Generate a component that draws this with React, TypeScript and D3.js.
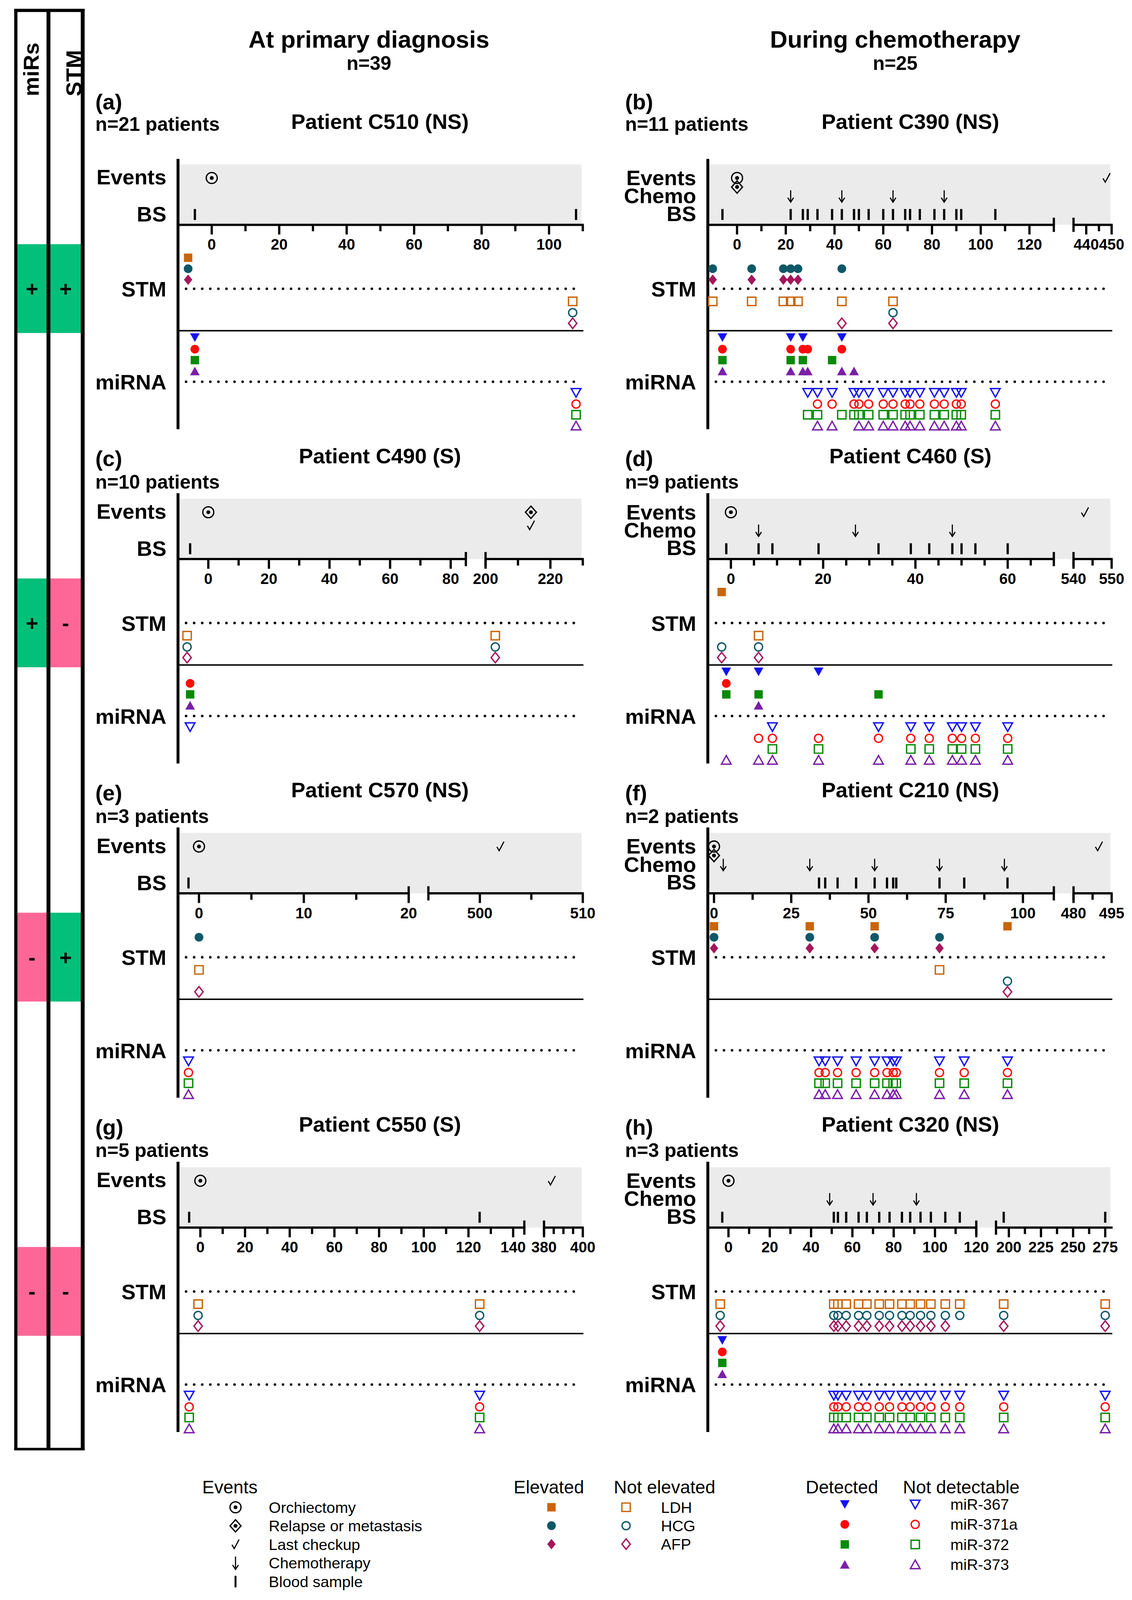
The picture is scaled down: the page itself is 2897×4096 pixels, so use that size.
import React from 'react';
import * as d3 from 'd3';

// reference canvas is 3504 x 4954, the viewBox scales it down to the window
const W = 3504;
const H = 4954;
const FONT = '"Liberation Sans", Arial, Helvetica, sans-serif';

const panelLetters = ['(a)', '(b)', '(c)', '(d)', '(e)', '(f)', '(g)', '(h)'];
const panelTitles = [
  'Patient C510 (NS)', 'Patient C390 (NS)', 'Patient C490 (S)', 'Patient C460 (S)',
  'Patient C570 (NS)', 'Patient C210 (NS)', 'Patient C550 (S)', 'Patient C320 (NS)',
];
const panelCounts = [
  'n=21 patients', 'n=11 patients', 'n=10 patients', 'n=9 patients',
  'n=3 patients', 'n=2 patients', 'n=5 patients', 'n=3 patients',
];
const columnTitles = ['At primary diagnosis', 'During chemotherapy'];
const columnCounts = ['n=39', 'n=25'];

// left strip: miRs / STM status per row
const mirsStatus = ['+', '+', '-', '-'];
const stmStatus = ['+', '-', '+', '-'];

// x axis (days), split into segments where the axis is broken
const axisDomains: [number, number][][] = [
  [[-10, 110]],
  [[-12, 130], [435, 450]],
  [[-10, 85], [200, 230]],
  [[-5, 70], [540, 550]],
  [[-2, 20], [495, 510]],
  [[-2, 110], [480, 495]],
  [[-10, 145], [380, 400]],
  [[-10, 120], [190, 280]],
];
const majorTicks = [
  [0, 20, 40, 60, 80, 100],
  [0, 20, 40, 60, 80, 100, 120, 440, 450],
  [0, 20, 40, 60, 80, 200, 220],
  [0, 20, 40, 60, 540, 550],
  [0, 10, 20, 500, 510],
  [0, 25, 50, 75, 100, 480, 495],
  [0, 20, 40, 60, 80, 100, 120, 140, 380, 400],
  [0, 20, 40, 60, 80, 100, 120, 200, 225, 250, 275],
];
const minorTicks = [
  [10, 30, 50, 70, 90, 110],
  [10, 30, 50, 70, 90, 110, 445],
  [10, 30, 50, 70, 210, 230],
  [5, 10, 15, 25, 30, 35, 45, 50, 55, 65, 545],
  [5, 15, 505],
  [12.5, 37.5, 62.5, 87.5, 487.5],
  [10, 30, 50, 70, 90, 110, 130, 385, 390, 395],
  [10, 30, 50, 70, 90, 110, 212.5, 237.5, 262.5],
];

// events (days)
const orchiectomyDays = [[0], [0], [0], [0], [0], [0], [0], [0]];
const relapseDays = [[], [0], [214], [], [], [0], [], []];
const checkupDays = [[], [448], [214], [543], [502], [490], [384], []];
const chemoDays = [[], [22, 43, 64, 85], [], [6, 27, 48], [], [3, 31, 52, 73, 94], [], [49, 70, 91]];
const bloodSampleDays = [
  [-5, 108],
  [-6, 22, 27, 29, 33, 39, 43, 48, 50, 54, 60, 64, 69, 71, 75, 81, 85, 90, 92, 106],
  [-6],
  [-1, 6, 9, 19, 32, 39, 43, 48, 50, 53, 60],
  [-1],
  [34, 36, 40, 46, 52, 56, 58, 59, 73, 81, 95],
  [-5, 125],
  [-3, 51, 53, 57, 63, 67, 73, 78, 84, 88, 93, 98, 105, 112, 196, 275],
];

// serum tumour markers
const ldhElevated = [[-7], [], [], [-2], [], [0, 31, 52, 95], [], []];
const ldhNormal = [
  [107], [-10, 6, 19, 22, 25, 43, 64], [-7, 203], [6], [0], [73], [-1, 125],
  [-4, 51, 53, 57, 63, 67, 73, 78, 84, 88, 93, 98, 105, 112, 196, 275],
];
const hcgElevated = [[-7], [-10, 6, 19, 22, 25, 43], [], [], [0], [0, 31, 52, 73], [], []];
const hcgNormal = [
  [107], [64], [-7, 203], [-2, 6], [], [95], [-1, 125],
  [-4, 51, 53, 57, 63, 67, 73, 78, 84, 88, 93, 98, 105, 112, 196, 275],
];
const afpElevated = [[-7], [-10, 6, 19, 22, 25], [], [], [], [0, 31, 52, 73], [], []];
const afpNormal = [
  [107], [43, 64], [-7, 203], [-2, 6], [0], [95], [-1, 125],
  [-4, 51, 53, 57, 63, 67, 73, 78, 84, 88, 93, 98, 105, 196, 275],
];

// miRNAs
const mir367Detected = [[-5], [-6, 22, 27, 43], [], [-1, 6, 19], [], [], [], [-3]];
const mir367Undetected = [
  [108], [29, 33, 39, 48, 50, 54, 60, 64, 69, 71, 75, 81, 85, 90, 92, 106], [-6],
  [9, 32, 39, 43, 48, 50, 53, 60], [-1], [34, 36, 40, 46, 52, 56, 58, 59, 73, 81, 95], [-5, 125],
  [51, 53, 57, 63, 67, 73, 78, 84, 88, 93, 98, 105, 112, 196, 275],
];
const mir371Detected = [[-5], [-6, 22, 27, 29, 43], [-6], [-1], [], [], [], [-3]];
const mir371Undetected = [
  [108], [33, 39, 48, 50, 54, 60, 64, 69, 71, 75, 81, 85, 90, 92, 106], [],
  [6, 9, 19, 32, 39, 43, 48, 50, 53, 60], [-1], [34, 36, 40, 46, 52, 56, 58, 59, 73, 81, 95], [-5, 125],
  [51, 53, 57, 63, 67, 73, 78, 84, 88, 93, 98, 105, 112, 196, 275],
];
const mir372Detected = [[-5], [-6, 22, 27, 39], [-6], [-1, 6, 32], [], [], [], [-3]];
const mir372Undetected = [
  [108], [29, 33, 43, 48, 50, 54, 60, 64, 69, 71, 75, 81, 85, 90, 92, 106], [],
  [9, 19, 39, 43, 48, 50, 53, 60], [-1], [34, 36, 40, 46, 52, 56, 58, 59, 73, 81, 95], [-5, 125],
  [51, 53, 57, 63, 67, 73, 78, 84, 88, 93, 98, 105, 112, 196, 275],
];
const mir373Detected = [[-5], [-6, 22, 27, 29, 43, 48], [-6], [6], [], [], [], [-3]];
const mir373Undetected = [
  [108], [33, 39, 50, 54, 60, 64, 69, 71, 75, 81, 85, 90, 92, 106], [],
  [-1, 6, 9, 19, 32, 39, 43, 48, 50, 53, 60], [-1], [34, 36, 40, 46, 52, 56, 58, 59, 73, 81, 95], [-5, 125],
  [51, 53, 57, 63, 67, 73, 78, 84, 88, 93, 98, 105, 112, 196, 275],
];

const legendEvents = ['Orchiectomy', 'Relapse or metastasis', 'Last checkup', 'Chemotherapy', 'Blood sample'];
const legendStm = ['LDH', 'HCG', 'AFP'];
const legendMir = ['miR-367', 'miR-371a', 'miR-372', 'miR-373'];

type Shape = 'square' | 'circle' | 'diamond' | 'triUp' | 'triDown';

const stmSeries = [
  { name: 'LDH', color: '#C8650A', shape: 'square' as Shape, up: ldhElevated, down: ldhNormal },
  { name: 'HCG', color: '#0F5868', shape: 'circle' as Shape, up: hcgElevated, down: hcgNormal },
  { name: 'AFP', color: '#A3175B', shape: 'diamond' as Shape, up: afpElevated, down: afpNormal },
];
const mirSeries = [
  { name: 'miR-367', color: '#1212F2', shape: 'triDown' as Shape, up: mir367Detected, down: mir367Undetected },
  { name: 'miR-371a', color: '#FF0A0A', shape: 'circle' as Shape, up: mir371Detected, down: mir371Undetected },
  { name: 'miR-372', color: '#078A07', shape: 'square' as Shape, up: mir372Detected, down: mir372Undetected },
  { name: 'miR-373', color: '#7A1FA8', shape: 'triUp' as Shape, up: mir373Detected, down: mir373Undetected },
];

// layout
const colLeft = [551, 2191];
const colWidth = [1253, 1250];
const firstAxisY = 696;
const rowStep = 1035;
const breakAt = [0, 1071, 891, 1071, 714, 1071, 1072, 831];
const breakGap = 61;
const GREEN = '#04BF7A';
const PINK = '#FD6797';

function makeX(domains: [number, number][], x0: number, w: number, brk: number) {
  const ranges: [number, number][] =
    domains.length === 1 ? [[x0, x0 + w]] : [[x0, x0 + brk], [x0 + brk + breakGap, x0 + w]];
  const scales = domains.map((d, i) => d3.scaleLinear().domain(d).range(ranges[i]));
  const f = (v: number) => {
    let i = domains.findIndex((d) => v >= d[0] && v <= d[1]);
    if (i < 0) i = v < domains[0][0] ? 0 : domains.length - 1;
    return scales[i](v);
  };
  return { f, ranges };
}

function Marker({ shape, x, y, color, filled }: { shape: Shape; x: number; y: number; color: string; filled: boolean }) {
  const s = 13;
  const style = filled
    ? { fill: color, stroke: 'none' }
    : { fill: 'none', stroke: color, strokeWidth: 4.2 };
  if (shape === 'circle') return <circle cx={x} cy={y} r={filled ? 13.5 : 12.5} {...style} />;
  let d = '';
  if (shape === 'square') d = `M${x - s},${y - s}h${2 * s}v${2 * s}h${-2 * s}Z`;
  if (shape === 'diamond') d = `M${x},${y - 1.25 * s}L${x + s},${y}L${x},${y + 1.25 * s}L${x - s},${y}Z`;
  if (shape === 'triUp') d = `M${x},${y - 1.05 * s}L${x + 1.15 * s},${y + s}L${x - 1.15 * s},${y + s}Z`;
  if (shape === 'triDown') d = `M${x},${y + 1.05 * s}L${x + 1.15 * s},${y - s}L${x - 1.15 * s},${y - s}Z`;
  return <path d={d} {...style} />;
}

function Orchiectomy({ x, y }: { x: number; y: number }) {
  return (
    <g>
      <circle cx={x} cy={y} r={17} fill="none" stroke="#000" strokeWidth={4} />
      <circle cx={x} cy={y} r={6} fill="#000" />
    </g>
  );
}

function Relapse({ x, y }: { x: number; y: number }) {
  return (
    <g>
      <path d={`M${x},${y - 19}L${x + 17},${y}L${x},${y + 19}L${x - 17},${y}Z`} fill="none" stroke="#000" strokeWidth={4} />
      <circle cx={x} cy={y} r={6} fill="#000" />
    </g>
  );
}

function Checkup({ x, y }: { x: number; y: number }) {
  return (
    <path d={`M${x - 11},${y + 1}L${x - 4},${y + 13}L${x + 11},${y - 15}`} fill="none" stroke="#000" strokeWidth={3.5} />
  );
}

function ChemoArrow({ x, y1, y2 }: { x: number; y1: number; y2: number }) {
  return (
    <g fill="none" stroke="#000" strokeWidth={3.5}>
      <line x1={x} x2={x} y1={y1} y2={y2} />
      <path d={`M${x - 9},${y2 - 14}L${x},${y2}L${x + 9},${y2 - 14}`} />
    </g>
  );
}

function Panel({ p }: { p: number }) {
  const col = p % 2;
  const row = Math.floor(p / 2);
  const x0 = colLeft[col];
  const w = colWidth[col];
  const ay = firstAxisY + row * rowStep;
  const { f: x, ranges } = makeX(axisDomains[p], x0, w, breakAt[p]);
  const chemo = chemoDays[p].length > 0;
  const stmY = ay + 198;
  const sepY = ay + 328;
  const mirY = ay + 486;
  const labelX = x0 - 36;
  const labelStyle = { fontFamily: FONT, fontWeight: 700, fontSize: 66, textAnchor: 'end' as const };

  const evts: { type: string; d: number }[] = [
    ...orchiectomyDays[p].map((d) => ({ type: 'orch', d })),
    ...relapseDays[p].map((d) => ({ type: 'relapse', d })),
    ...checkupDays[p].map((d) => ({ type: 'check', d })),
  ];
  const placed: { type: string; px: number; k: number }[] = [];
  evts.forEach((e) => {
    const px = x(e.d);
    const k = placed.filter((q) => Math.abs(q.px - px) < 20).length;
    placed.push({ type: e.type, px, k });
  });
  const evBase = ay - 145;
  const evGap = chemo ? 28 : 41;

  const titleX = col === 0 ? 1176 : 2818;
  const letterX = x0 - 256;
  const first = row === 0;

  const stmUp = [-96, -62, -28];
  const stmDown = [39, 74, 107];
  const mirUp = [-137, -101, -67, -33];
  const mirDown = [34, 69, 102, 136];

  return (
    <g>
      {/* headings */}
      <text x={letterX} y={first ? ay - 357 : ay - 288} fontFamily={FONT} fontWeight={700} fontSize={68}>
        {panelLetters[p]}
      </text>
      <text x={titleX} y={ay - 297} fontFamily={FONT} fontWeight={700} fontSize={66} textAnchor="middle">
        {panelTitles[p]}
      </text>
      <text x={letterX} y={first ? ay - 291 : ay - 218} fontFamily={FONT} fontWeight={700} fontSize={60}>
        {panelCounts[p]}
      </text>

      {/* events band */}
      <rect x={x0 + 4} y={ay - 187} width={w - 8} height={187} fill="#EBEBEB" />

      {chemo ? (
        <>
          <text x={labelX} y={ay - 123} {...labelStyle}>Events</text>
          <text x={labelX} y={ay - 67} {...labelStyle}>Chemo</text>
          <text x={labelX} y={ay - 12} {...labelStyle}>BS</text>
        </>
      ) : (
        <>
          <text x={labelX} y={ay - 125} {...labelStyle}>Events</text>
          <text x={labelX} y={ay - 10} {...labelStyle}>BS</text>
        </>
      )}
      <text x={labelX} y={stmY + 24} {...labelStyle}>STM</text>
      <text x={labelX} y={mirY + 24} {...labelStyle}>miRNA</text>

      {placed.map((e, i) => {
        const y = evBase + e.k * evGap;
        if (e.type === 'orch') return <Orchiectomy key={i} x={e.px} y={y} />;
        if (e.type === 'relapse') return <Relapse key={i} x={e.px} y={y} />;
        return <Checkup key={i} x={e.px} y={y} />;
      })}
      {chemoDays[p].map((d, i) => (
        <ChemoArrow key={`c${i}`} x={x(d)} y1={ay - 107} y2={ay - 70} />
      ))}
      {bloodSampleDays[p].map((d, i) => (
        <line key={`b${i}`} x1={x(d)} x2={x(d)} y1={ay - 49} y2={ay - 15} stroke="#000" strokeWidth={7} />
      ))}

      {/* axes */}
      <line x1={x0} x2={x0} y1={ay - 204} y2={ay + 633} stroke="#000" strokeWidth={9} />
      {ranges.map((r, i) => (
        <line key={`s${i}`} x1={i === 0 ? x0 : r[0]} x2={r[1] + 3} y1={ay} y2={ay} stroke="#000" strokeWidth={7} />
      ))}
      {ranges.length > 1 && (
        <>
          <line x1={ranges[0][1]} x2={ranges[0][1]} y1={ay - 22} y2={ay + 22} stroke="#000" strokeWidth={7} />
          <line x1={ranges[1][0]} x2={ranges[1][0]} y1={ay - 22} y2={ay + 22} stroke="#000" strokeWidth={7} />
        </>
      )}
      {majorTicks[p].map((t) => (
        <g key={`M${t}`}>
          <line x1={x(t)} x2={x(t)} y1={ay} y2={ay + 30} stroke="#000" strokeWidth={7} />
          <text x={x(t)} y={ay + 77} fontFamily={FONT} fontWeight={700} fontSize={47} textAnchor="middle">
            {t}
          </text>
        </g>
      ))}
      {minorTicks[p].map((t) => (
        <line key={`m${t}`} x1={x(t)} x2={x(t)} y1={ay} y2={ay + 20} stroke="#000" strokeWidth={7} />
      ))}

      {/* STM / miRNA bands */}
      <line x1={x0 + 25} x2={x0 + w - 22} y1={stmY} y2={stmY} stroke="#000" strokeWidth={8}
        strokeDasharray="0 25" strokeLinecap="round" />
      <line x1={x0} x2={x0 + w + 2} y1={sepY} y2={sepY} stroke="#000" strokeWidth={4.5} />
      <line x1={x0 + 25} x2={x0 + w - 22} y1={mirY} y2={mirY} stroke="#000" strokeWidth={8}
        strokeDasharray="0 25" strokeLinecap="round" />

      {stmSeries.map((s, i) => (
        <g key={s.name}>
          {s.up[p].map((d, j) => (
            <Marker key={`u${j}`} shape={s.shape} x={x(d)} y={stmY + stmUp[i]} color={s.color} filled />
          ))}
          {s.down[p].map((d, j) => (
            <Marker key={`d${j}`} shape={s.shape} x={x(d)} y={stmY + stmDown[i]} color={s.color} filled={false} />
          ))}
        </g>
      ))}
      {mirSeries.map((s, i) => (
        <g key={s.name}>
          {s.up[p].map((d, j) => (
            <Marker key={`u${j}`} shape={s.shape} x={x(d)} y={mirY + mirUp[i]} color={s.color} filled />
          ))}
          {s.down[p].map((d, j) => (
            <Marker key={`d${j}`} shape={s.shape} x={x(d)} y={mirY + mirDown[i]} color={s.color} filled={false} />
          ))}
        </g>
      ))}
    </g>
  );
}

function Strip() {
  const boxH = 275;
  return (
    <g>
      {mirsStatus.map((s, i) => {
        const cy = firstAxisY + 198 + i * rowStep;
        const s2 = stmStatus[i];
        return (
          <g key={i}>
            <rect x={54} y={cy - 138} width={90} height={boxH} fill={s === '+' ? GREEN : PINK} />
            <rect x={156} y={cy - 138} width={95} height={boxH} fill={s2 === '+' ? GREEN : PINK} />
            <text x={99} y={cy} dy="0.35em" fontFamily={FONT} fontWeight={700} fontSize={66} textAnchor="middle">{s}</text>
            <text x={203} y={cy} dy="0.35em" fontFamily={FONT} fontWeight={700} fontSize={66} textAnchor="middle">{s2}</text>
          </g>
        );
      })}
      <g stroke="#000">
        <line x1={49} x2={49} y1={28} y2={4490} strokeWidth={10} />
        <line x1={150} x2={150} y1={28} y2={4490} strokeWidth={12} />
        <line x1={256} x2={256} y1={28} y2={4490} strokeWidth={12} />
        <line x1={44} x2={262} y1={32} y2={32} strokeWidth={10} />
        <line x1={44} x2={262} y1={4487} y2={4487} strokeWidth={8} />
      </g>
      <text transform="translate(120,298) rotate(-90)" fontFamily={FONT} fontWeight={700} fontSize={68}>miRs</text>
      <text transform="translate(251,298) rotate(-90)" fontFamily={FONT} fontWeight={700} fontSize={68}>STM</text>
    </g>
  );
}

function Legend() {
  const head = { fontFamily: FONT, fontSize: 56 };
  const lab = { fontFamily: FONT, fontSize: 48 };
  const evY = (i: number) => 4667 + i * 57.5;
  const stY = (i: number) => 4667 + i * 57;
  const mrY = (i: number) => 4658 + i * 62;
  return (
    <g>
      <text x={626} y={4624} {...head}>Events</text>
      <Orchiectomy x={729} y={evY(0)} />
      <Relapse x={729} y={evY(1)} />
      <Checkup x={729} y={evY(2)} />
      <ChemoArrow x={729} y1={evY(3) - 20} y2={evY(3) + 20} />
      <line x1={729} x2={729} y1={evY(4) - 18} y2={evY(4) + 18} stroke="#000" strokeWidth={6} />
      {legendEvents.map((t, i) => (
        <text key={t} x={832} y={evY(i) + 17} {...lab}>{t}</text>
      ))}

      <text x={1590} y={4624} {...head}>Elevated</text>
      <text x={1900} y={4624} {...head}>Not elevated</text>
      {stmSeries.map((s, i) => (
        <g key={s.name}>
          <Marker shape={s.shape} x={1707} y={stY(i)} color={s.color} filled />
          <Marker shape={s.shape} x={1938} y={stY(i)} color={s.color} filled={false} />
          <text x={2046} y={stY(i) + 17} {...lab}>{legendStm[i]}</text>
        </g>
      ))}

      <text x={2494} y={4624} {...head}>Detected</text>
      <text x={2795} y={4624} {...head}>Not detectable</text>
      {mirSeries.map((s, i) => (
        <g key={s.name}>
          <Marker shape={s.shape} x={2615} y={mrY(i)} color={s.color} filled />
          <Marker shape={s.shape} x={2833} y={mrY(i)} color={s.color} filled={false} />
          <text x={2942} y={mrY(i) + 17} {...lab}>{legendMir[i]}</text>
        </g>
      ))}
    </g>
  );
}

export default function App() {
  return (
    <svg
      width={2897}
      height={4096}
      viewBox={`0 0 ${W} ${H}`}
      style={{ position: 'absolute', left: 0, top: 0, background: '#fff' }}
    >
      <rect width={W} height={H} fill="#fff" />
      {columnTitles.map((t, i) => (
        <g key={t}>
          <text x={i === 0 ? 1142 : 2771} y={147} fontFamily={FONT} fontWeight={700} fontSize={75} textAnchor="middle">{t}</text>
          <text x={i === 0 ? 1142 : 2771} y={216} fontFamily={FONT} fontWeight={700} fontSize={60} textAnchor="middle">{columnCounts[i]}</text>
        </g>
      ))}
      <Strip />
      {panelTitles.map((_, p) => (
        <Panel key={p} p={p} />
      ))}
      <Legend />
    </svg>
  );
}
